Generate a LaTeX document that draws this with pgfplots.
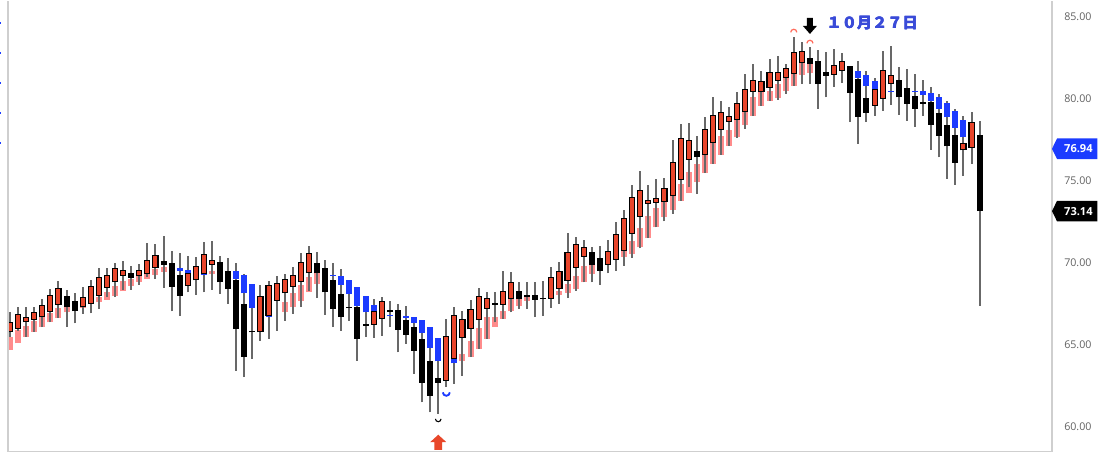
\documentclass[border=0pt]{standalone}
\usepackage{pgfplots}
\pgfplotsset{compat=1.18}
\usepackage{pgfplotstable}
\usepackage{fontspec}
\setmainfont{Open Sans}
\newfontfamily\cjk{Noto Sans CJK JP}

\definecolor{candred}{HTML}{E8452B}
\definecolor{pinkov}{HTML}{FF8C8C}
\definecolor{blueov}{HTML}{1C3BFF}
\definecolor{wick}{HTML}{686868}
\definecolor{arcred}{HTML}{FF6B5B}
\definecolor{arrowred}{HTML}{E8472A}
\definecolor{textblue}{HTML}{3A4BD8}
\definecolor{tagblue}{HTML}{1B3BFF}
\definecolor{frame}{HTML}{CFCFCF}

% signal marks
\pgfdeclareplotmark{arccap}{%
  \pgfpathmoveto{\pgfqpoint{-\pgfplotmarksize}{0pt}}%
  \pgfpatharc{180}{0}{\pgfplotmarksize}%
  \pgfusepathqstroke}
\pgfdeclareplotmark{arccup}{%
  \pgfpathmoveto{\pgfqpoint{-\pgfplotmarksize}{0pt}}%
  \pgfpatharc{180}{360}{\pgfplotmarksize}%
  \pgfusepathqstroke}
\pgfdeclareplotmark{blockdown}{%
  \pgfpathmoveto{\pgfqpoint{-2.25pt}{6pt}}%
  \pgfpathlineto{\pgfqpoint{2.25pt}{6pt}}%
  \pgfpathlineto{\pgfqpoint{2.25pt}{0pt}}%
  \pgfpathlineto{\pgfqpoint{5.25pt}{0pt}}%
  \pgfpathlineto{\pgfqpoint{0pt}{-6pt}}%
  \pgfpathlineto{\pgfqpoint{-5.25pt}{0pt}}%
  \pgfpathlineto{\pgfqpoint{-2.25pt}{0pt}}%
  \pgfpathclose\pgfusepathqfill}
\pgfdeclareplotmark{blockup}{%
  \pgfpathmoveto{\pgfqpoint{0pt}{5.7pt}}%
  \pgfpathlineto{\pgfqpoint{6pt}{0.2pt}}%
  \pgfpathlineto{\pgfqpoint{2.9pt}{0.2pt}}%
  \pgfpathlineto{\pgfqpoint{2.9pt}{-5.7pt}}%
  \pgfpathlineto{\pgfqpoint{-2.9pt}{-5.7pt}}%
  \pgfpathlineto{\pgfqpoint{-2.9pt}{0.2pt}}%
  \pgfpathlineto{\pgfqpoint{-6pt}{0.2pt}}%
  \pgfpathclose\pgfusepathqfill}

% candles: index, high, low, open, close
\pgfplotstableread{
i h l o c
0 66.97 65.49 65.81 66.30
1 67.32 65.85 66.02 66.83
2 67.32 65.49 66.42 66.63
3 67.32 65.79 66.55 66.93
4 67.79 66.06 66.73 67.36
5 68.39 66.36 67.03 67.95
6 68.90 66.63 67.48 68.39
7 68.33 66.06 67.95 67.28
8 68.13 66.30 67.64 67.03
9 68.50 66.87 67.36 67.84
10 68.94 66.91 67.56 68.54
11 69.67 67.17 68.05 69.07
12 69.67 67.89 68.54 69.21
13 69.96 67.89 68.86 69.61
14 70.12 68.33 69.25 69.51
15 69.82 68.33 69.39 69.07
16 69.92 68.66 69.25 69.51
17 71.18 69.11 69.37 70.12
18 71.14 69.00 69.71 70.41
19 71.65 68.46 70.08 69.84
20 70.73 67.03 69.98 68.54
21 70.57 66.77 69.27 67.99
22 70.43 68.19 68.66 69.31
23 70.33 68.05 68.98 69.76
24 71.24 68.19 69.35 70.47
25 71.34 68.33 69.92 70.12
26 70.43 68.09 70.02 68.80
27 70.28 67.48 69.47 68.39
28 69.98 63.42 68.94 65.95
29 69.31 63.01 67.48 64.23
30 68.70 64.13 65.85 65.75
31 68.66 65.24 65.81 67.89
32 68.90 65.35 66.83 68.60
33 69.21 65.85 67.72 68.70
34 69.31 66.46 68.19 68.94
35 69.71 66.87 68.56 69.21
36 70.57 67.28 68.86 69.96
37 71.02 68.29 69.41 70.53
38 70.63 67.84 70.00 69.35
39 70.16 66.83 69.68 68.19
40 69.96 66.06 68.94 67.17
41 69.61 65.85 68.09 66.67
42 68.70 66.46 67.32 67.22
43 68.50 64.02 67.32 65.35
44 67.93 65.45 66.26 66.16
45 67.79 65.41 66.26 66.97
46 67.93 65.55 66.63 67.58
47 67.64 66.06 67.11 67.01
48 67.48 64.53 67.11 65.89
49 67.38 65.04 66.50 65.61
50 66.67 63.21 66.06 64.63
51 66.46 61.48 65.35 62.66
52 66.02 60.87 64.03 61.89
53 65.41 60.77 62.97 62.66
54 66.57 62.40 62.85 65.45
55 67.28 62.60 64.17 66.73
56 67.07 63.11 65.45 66.52
57 67.72 64.23 66.00 67.11
58 68.45 64.74 66.55 67.89
59 68.23 65.35 67.24 67.76
60 68.19 66.36 67.52 67.42
61 69.51 66.57 67.48 68.23
62 69.45 66.97 67.85 68.74
63 68.80 67.17 68.29 67.78
64 68.80 67.17 68.03 67.93
65 68.84 66.67 68.05 67.72
66 68.86 66.77 67.87 67.77
67 69.76 67.24 67.85 69.04
68 70.02 67.48 68.46 69.45
69 71.79 67.83 68.94 70.57
70 71.59 68.29 69.76 71.10
71 71.38 68.80 70.43 70.89
72 70.94 68.80 70.67 69.88
73 71.04 68.64 70.28 69.51
74 71.38 69.35 69.92 70.65
75 72.50 69.51 70.22 71.69
76 73.21 69.82 70.79 72.64
77 74.76 70.28 71.81 73.92
78 75.61 70.87 72.87 74.39
79 74.76 71.50 73.64 73.74
80 75.10 72.15 73.72 73.86
81 75.16 72.52 73.78 74.47
82 77.50 72.97 74.13 76.06
83 78.46 73.78 75.10 77.54
84 78.50 74.59 76.33 77.40
85 77.74 74.19 76.83 76.42
86 78.90 75.45 76.63 78.09
87 80.08 76.02 77.34 78.94
88 79.88 76.59 78.15 79.11
89 79.47 77.13 78.66 78.90
90 80.43 77.60 78.76 79.68
91 81.50 78.15 79.27 80.53
92 82.11 78.96 80.49 81.06
93 81.71 79.57 80.49 81.04
94 82.42 79.88 80.73 81.55
95 82.62 79.92 81.14 81.55
96 82.11 80.29 81.34 81.81
97 83.78 80.79 81.57 82.79
98 83.43 80.89 82.22 82.83
99 83.13 80.89 82.48 82.11
100 82.97 79.37 82.32 80.89
101 82.83 80.08 81.65 81.38
102 83.01 80.73 81.50 81.99
103 82.76 80.98 81.75 82.22
104 82.01 78.56 81.99 80.33
105 82.32 77.24 81.18 78.90
106 81.67 78.56 80.04 79.15
107 81.26 78.96 79.61 80.53
108 82.93 79.27 80.04 81.71
109 83.23 79.63 80.94 81.38
110 81.95 79.02 81.14 80.08
111 81.81 78.66 80.63 79.68
112 81.50 78.29 80.14 79.37
113 81.14 78.96 79.78 79.68
114 80.73 76.89 79.78 78.41
115 80.28 76.42 79.11 77.74
116 79.88 75.10 78.41 77.09
117 79.37 74.76 77.77 76.08
118 78.96 75.30 76.91 77.24
119 79.17 76.02 77.07 78.50
120 78.66 67.38 77.80 73.14
}\candles

% pink shadow bodies: index, top, bottom
\pgfplotstableread{
i t b
0 65.49 64.68
1 65.89 65.08
2 66.16 65.49
3 66.42 65.79
4 66.67 66.10
5 66.91 66.36
6 67.24 66.63
7 67.28 66.97
9 67.32 67.24
11 67.89 67.58
12 68.19 67.74
13 68.56 67.95
14 68.86 68.25
15 69.00 68.60
16 69.21 68.84
17 69.31 69.00
18 69.59 69.25
19 69.76 69.45
25 69.47 69.31
34 67.58 67.01
35 68.13 67.28
36 68.64 67.68
37 69.15 68.19
38 69.35 68.70
56 64.43 64.02
57 65.20 64.23
58 66.02 64.74
59 66.67 65.35
60 66.67 66.06
61 67.07 66.57
62 67.78 67.03
63 67.78 67.38
64 67.93 67.68
68 68.25 68.05
69 68.70 68.15
70 69.21 68.39
71 69.80 68.80
72 69.88 69.31
75 70.73 70.22
76 70.79 70.33
77 71.34 70.53
78 72.11 70.94
79 72.82 71.50
80 73.33 72.15
81 73.78 72.76
82 74.13 73.21
83 74.80 73.78
84 75.51 74.23
85 76.02 74.90
86 77.20 75.45
87 77.70 76.02
88 77.70 76.59
89 78.09 77.13
90 79.03 77.64
91 79.51 78.41
92 80.12 78.96
93 80.65 79.57
94 80.49 79.88
95 80.89 80.04
96 81.34 80.45
97 81.55 80.79
98 82.22 81.46
99 82.11 81.55
}\pinks

% blue shadow bodies: index, top, bottom
\pgfplotstableread{
i t b
21 69.65 69.51
22 69.55 69.31
24 69.35 69.27
28 69.47 69.00
29 69.27 68.13
30 68.70 67.24
32 66.83 66.67
40 69.27 69.21
41 69.21 68.66
42 68.94 68.09
43 68.54 67.38
44 67.99 66.97
45 67.44 66.97
47 66.81 66.73
49 66.73 66.63
50 66.67 66.32
51 66.50 65.69
52 66.06 64.78
53 65.41 63.98
55 64.17 63.86
105 81.71 81.26
106 81.46 80.79
107 81.10 80.53
109 80.49 80.43
112 80.49 80.43
113 80.45 80.22
114 80.33 79.84
115 80.08 79.37
116 79.72 78.86
117 79.27 78.21
118 78.72 77.64
}\blues

\pgfplotsset{
  body/.style 2 args={draw=none, mark=none, forget plot,
    error bars/.cd, y dir=plus, y explicit, error mark=none,
    error bar style={draw=#1, line width=#2}},
}
\tikzset{
  datelabel/.style={anchor=west, inner sep=0pt, text=textblue,
    font=\cjk\bfseries\fontsize{11.4}{12}\selectfont},
}

\begin{document}
\begin{tikzpicture}
\begin{axis}[
  scale only axis,
  width=783pt, height=338.25pt,
  xmin=-0.2475, xmax=128.96,
  ymin=58.476, ymax=85.976,
  axis x line*=bottom, axis y line*=right,
  axis line style={draw=frame, line width=0.9pt},
  xtick=\empty,
  ytick={60,65,70,75,80,85},
  major tick length=0pt,
  yticklabel style={font=\fontsize{8}{9}\selectfont, text=black!62,
    anchor=west, inner sep=0pt, xshift=9pt,
    /pgf/number format/.cd, fixed, fixed zerofill, precision=2,
    assume math mode=true},
]
% shadow bodies and wicks
\addplot[body={pinkov}{4.5pt}] table[x=i, y=b, y error expr=\thisrow{t}-\thisrow{b}] {\pinks};
\addplot[body={wick}{1.5pt}] table[x=i, y=l, y error expr=\thisrow{h}-\thisrow{l}] {\candles};
\addplot[body={blueov}{4.5pt}] table[x=i, y=b, y error expr=\thisrow{t}-\thisrow{b}] {\blues};
% falling candles
\addplot[restrict expr to domain={\thisrow{o}-\thisrow{c}}{0.001:100}, body={black}{4.5pt}]
  table[x=i, y=c, y error expr=\thisrow{o}-\thisrow{c}] {\candles};
% rising candles: outline, then fill
\addplot[restrict expr to domain={\thisrow{c}-\thisrow{o}}{0.001:100}, body={black}{4.6pt}]
  table[x=i, y expr=\thisrow{o}-0.06, y error expr=\thisrow{c}-\thisrow{o}+0.12] {\candles};
\addplot[restrict expr to domain={\thisrow{c}-\thisrow{o}}{0.001:100}, body={candred}{3pt}]
  table[x=i, y=o, y error expr=\thisrow{c}-\thisrow{o}] {\candles};
% signals
\addplot[only marks, mark=arccap, mark size=2.3pt, color=arcred, line width=0.9pt]
  coordinates {(97,84.04) (99,83.37)};
\addplot[only marks, mark=arccup, mark size=2.1pt, color=black, line width=0.8pt]
  coordinates {(53,60.47)};
\addplot[only marks, mark=arccup, mark size=2.6pt, color=blueov, line width=1.4pt]
  coordinates {(54,62.09)};
\addplot[only marks, mark=blockdown, color=black] coordinates {(99,84.43)};
\addplot[only marks, mark=blockup, color=arrowred] coordinates {(53,59.04)};
% date label, set three times with small offsets for a heavier stroke
\node[datelabel] at (axis cs:101.0,84.62) {１０月２７日};
\node[datelabel, xshift=0.35pt] at (axis cs:101.0,84.62) {１０月２７日};
\node[datelabel, xshift=0.18pt, yshift=0.2pt] at (axis cs:101.0,84.62) {１０月２７日};
\coordinate (tagA) at (axis cs:128.96,76.94);
\coordinate (tagB) at (axis cs:128.96,73.14);
\end{axis}
\draw[frame, line width=0.9pt] (current axis.south west) -- (current axis.north west);
% price tags
\fill[tagblue] (tagA) -- ++(3.8pt,7.75pt) -- ++(30.2pt,0) -- ++(0,-15.5pt) -- ++(-30.2pt,0) -- cycle;
\node[text=white, inner sep=0pt, font=\bfseries\fontsize{8.3}{9}\selectfont] at ([xshift=19.8pt]tagA) {76.94};
\fill[black] (tagB) -- ++(3.8pt,7.75pt) -- ++(30.2pt,0) -- ++(0,-15.5pt) -- ++(-30.2pt,0) -- cycle;
\node[text=white, inner sep=0pt, font=\bfseries\fontsize{8.3}{9}\selectfont] at ([xshift=19.8pt]tagB) {73.14};
% small marks on the left edge
\foreach \yy in {22.7,52.7,82.7,112.7,142.7}
  \fill[blueov] ([xshift=-6pt, yshift=-\yy*0.75pt+0.75pt]current axis.north west) rectangle ++(0.9pt,-1.5pt);
\path ([xshift=-6pt, yshift=-0.75pt]current axis.south west) ([xshift=49.5pt]current axis.north east);
\end{tikzpicture}
\end{document}
